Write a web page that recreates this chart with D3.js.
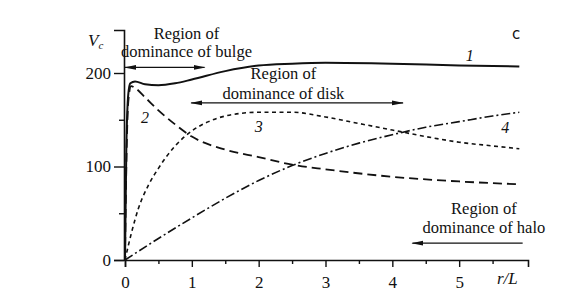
<!DOCTYPE html>
<html><head><meta charset="utf-8">
<script src="https://cdn.jsdelivr.net/npm/d3@7"></script>
<style>
body{margin:0;background:#fff;}
svg{display:block;}
text{font-family:"Liberation Serif","Times New Roman",serif;fill:#111;}
</style></head>
<body>
<script>
// ---- data ----
const r1 = [0, 0.02, 0.05, 0.08, 0.15, 0.3, 0.5, 0.75, 1, 1.5, 2, 2.5, 3, 4, 5, 5.9];
const v1 = [0, 120, 178, 189, 191, 188, 187, 189, 193, 202, 208, 210, 211, 210, 208, 207];
const r2 = [0, 0.02, 0.05, 0.09, 0.15, 0.3, 0.5, 0.75, 1, 1.5, 2, 2.5, 3, 4, 5, 5.9];
const v2 = [0, 100, 170, 186, 184, 174, 160, 145, 132, 118, 110, 102, 97, 89, 84, 81];
const r3 = [0, 0.1, 0.2, 0.35, 0.5, 0.75, 1, 1.25, 1.5, 2, 2.5, 3, 3.5, 4, 4.5, 5, 5.5, 5.9];
const v3 = [0, 30, 55, 80, 98, 122, 138, 148, 154, 158, 158, 153, 146, 139, 132, 126, 122, 119];
const r4 = [0, 0.5, 1, 1.5, 2, 2.5, 3, 3.5, 4, 4.5, 5, 5.5, 5.9];
const v4 = [0, 23, 45, 66, 85, 101, 114, 125, 134, 142, 148, 154, 158];
const curveLabels = ["1", "2", "3", "4"];
const xTicks = [0, 1, 2, 3, 4, 5];
const xMinorTicks = [0.5, 1.5, 2.5, 3.5, 4.5, 5.5];
const yTicks = [0, 100, 200];
const yMinorTicks = [50, 150];
const regionTexts = [["Region of", "dominance of bulge"], ["Region of", "dominance of disk"], ["Region of", "dominance of halo"]];

// ---- layout ----
const W = 570, H = 300;
const svg = d3.select("body").append("svg").attr("width", W).attr("height", H);
const x = d3.scaleLinear().domain([0, 6.03]).range([125, 528]);
const y = d3.scaleLinear().domain([0, 246]).range([260, 30]);

// axes
const gx = svg.append("g").attr("transform", `translate(0,${y(0)})`);
gx.call(d3.axisBottom(x).tickValues(xTicks).tickSize(7).tickPadding(6).tickFormat(d3.format("d")));
const gxm = svg.append("g").attr("transform", `translate(0,${y(0)})`);
gxm.call(d3.axisBottom(x).tickValues(xMinorTicks).tickSize(4).tickFormat(""));
gxm.select(".domain").remove();
const gy = svg.append("g").attr("transform", `translate(${x(0)-1},0)`);
gy.call(d3.axisLeft(y).tickValues(yTicks).tickSize(10).tickPadding(3).tickFormat(d3.format("d")));
const gym = svg.append("g").attr("transform", `translate(${x(0)-1},0)`);
gym.call(d3.axisLeft(y).tickValues(yMinorTicks).tickSize(5).tickFormat(""));
gym.select(".domain").remove();
svg.selectAll(".domain").attr("stroke", "#111").attr("stroke-width", 1.6);
svg.selectAll(".tick line").attr("stroke", "#111").attr("stroke-width", 1.4);
svg.selectAll(".tick text").style("font-family", "Liberation Serif, serif").style("font-size", "17px").attr("fill", "#111");
gx.selectAll(".tick text").attr("dy", "0.9em");

// curves
const line = d3.line().x(d => x(d[0])).y(d => y(d[1])).curve(d3.curveMonotoneX);
const series = [
  {r: r1, v: v1, dash: null, w: 2},
  {r: r2, v: v2, dash: "9,5", w: 1.8},
  {r: r3, v: v3, dash: "4,3.5", w: 1.6},
  {r: r4, v: v4, dash: "9,3,2,3", w: 1.6}
];
series.forEach(s => {
  svg.append("path").datum(s.r.map((rr, i) => [rr, s.v[i]]))
    .attr("d", line).attr("fill", "none").attr("stroke", "#111")
    .attr("stroke-width", s.w).attr("stroke-dasharray", s.dash);
});

// curve labels (position in data space)
const labelPos = [[5.16, 213], [0.3, 146], [2.0, 137], [5.69, 136]];
curveLabels.forEach((t, i) => {
  svg.append("text").attr("x", x(labelPos[i][0])).attr("y", y(labelPos[i][1]))
    .attr("text-anchor", "middle").style("font-style", "italic").style("font-size", "16px").text(t);
});

// region annotations
const defs = svg.append("defs");
defs.append("marker").attr("id", "ah").attr("viewBox", "0 0 12 6").attr("refX", 11).attr("refY", 3)
  .attr("markerWidth", 12).attr("markerHeight", 6).attr("markerUnits", "userSpaceOnUse").attr("orient", "auto-start-reverse")
  .append("path").attr("d", "M0,0.6 L12,3 L0,5.4 Z").attr("fill", "#111");
const regions = [
  {r0: 0.0, r1: 1.19, v: 206, both: true, cx: 0.92, t1: 236, t2: 217},
  {r0: 0.99, r1: 4.16, v: 168, both: true, cx: 2.37, t1: 194, t2: 172},
  {r0: 4.3, r1: 5.95, v: 18, both: false, cx: 5.37, t1: 49, t2: 29}
];
regions.forEach((g, i) => {
  const ln = svg.append("line").attr("x1", x(g.r0)).attr("x2", x(g.r1)).attr("y1", y(g.v)).attr("y2", y(g.v))
    .attr("stroke", "#111").attr("stroke-width", 1.3)
    .attr("marker-start", "url(#ah)");
  if (g.both) ln.attr("marker-end", "url(#ah)");
  svg.append("text").attr("x", x(g.cx)).attr("y", y(g.t1)).attr("text-anchor", "middle").style("font-size", "16.5px").text(regionTexts[i][0]);
  svg.append("text").attr("x", x(g.cx)).attr("y", y(g.t2)).attr("text-anchor", "middle").style("font-size", "16.5px").text(regionTexts[i][1]);
});

// axis titles
const vt = svg.append("text").attr("x", 88).attr("y", 46).style("font-size", "17px").style("font-style", "italic");
vt.append("tspan").text("V");
vt.append("tspan").attr("dy", 3).style("font-size", "11px").text("c");
svg.append("text").attr("x", 497).attr("y", 284).style("font-size", "17px").style("font-style", "italic").text("r/L");
svg.append("text").attr("x", 516).attr("y", 39).attr("text-anchor", "middle")
  .style("font-family", "DejaVu Sans, sans-serif").style("font-size", "15px").text("c");
</script>
</body></html>
